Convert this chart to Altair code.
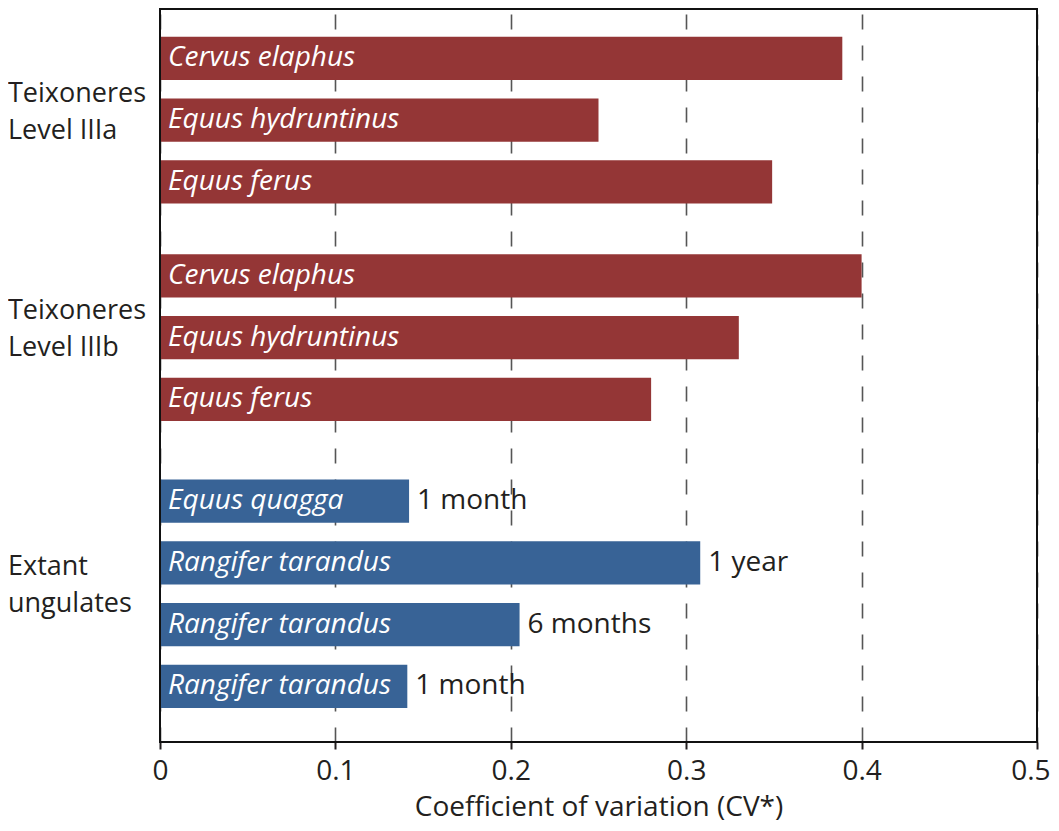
import altair as alt
import pandas as pd

# ---- data ----
group_labels = ["Teixoneres\nLevel IIIa", "Teixoneres\nLevel IIIb", "Extant\nungulates"]
species = ["Cervus elaphus", "Equus hydruntinus", "Equus ferus",
           "Cervus elaphus", "Equus hydruntinus", "Equus ferus",
           "Equus quagga", "Rangifer tarandus", "Rangifer tarandus", "Rangifer tarandus"]
group_of = [0, 0, 0, 1, 1, 1, 2, 2, 2, 2]
cv_values = [0.389, 0.250, 0.349, 0.400, 0.330, 0.280, 0.142, 0.308, 0.205, 0.141]
durations = ["", "", "", "", "", "", "1 month", "1 year", "6 months", "1 month"]
tick_values = [0, 0.1, 0.2, 0.3, 0.4, 0.5]

# ---- layout / style constants ----
W, H = 877, 733
Y_TOP = 0.13
FIRST_ROW = 0.93
GROUP_EXTRA = [0.0, 0.52, 1.17]
HALF_BAR = 0.35
LINE_H = 37
GROUP_COLORS = ["#943636", "#943636", "#386396"]
FONT = "Open Sans"
FS = 28
GFS = 27
INK = "#231f20"

pos = [FIRST_ROW + i + GROUP_EXTRA[g] for i, g in enumerate(group_of)]
df = pd.DataFrame({
    "species": species,
    "cv": cv_values,
    "dur": durations,
    "pos": pos,
    "color": [GROUP_COLORS[g] for g in group_of],
})
df["y0"] = df["pos"] - HALF_BAR
df["y1"] = df["pos"] + HALF_BAR

unit_px = H / (12 - Y_TOP)
gpos = []
for g in range(len(group_labels)):
    rows = [p for p, gg in zip(pos, group_of) if gg == g]
    # first line is anchored at 'middle'; shift up half a line so the block is centred
    gpos.append(sum(rows) / len(rows) - 0.13 - (LINE_H / 2) / unit_px)
gdf = pd.DataFrame({"label": group_labels, "pos": gpos})

yscale = alt.Scale(domain=[Y_TOP, 12], reverse=True, nice=False, zero=False)
xscale = alt.Scale(domain=[0, 0.5], nice=False)

base = alt.Chart(df)

bars = base.mark_rect().encode(
    x=alt.X("cv:Q", scale=xscale, axis=alt.Axis(
        values=tick_values, format=".1~f",
        title="Coefficient of variation (CV*)",
        titleFont=FONT, titleFontSize=FS, titleFontWeight="normal", titleColor=INK,
        titlePadding=8,
        labelFont=FONT, labelFontSize=FS, labelColor=INK, labelPadding=8,
        labelAlign={"condition": {"test": "datum.value >= 0.5", "value": "right"},
                    "value": "center"},
        labelOffset={"condition": {"test": "datum.value >= 0.5", "value": 13},
                     "value": 0},
        domain=False, tickColor=INK, tickSize=7, tickWidth=2,
        grid=True, gridDash=[15, 16], gridColor="#555555", gridWidth=1.6,
    )),
    x2=alt.datum(0),
    y=alt.Y("y0:Q", scale=yscale, axis=None),
    y2="y1:Q",
    color=alt.Color("color:N", scale=None),
)

names = base.mark_text(align="left", baseline="middle", font=FONT, fontSize=FS,
                       fontStyle="italic", color="white").encode(
    x=alt.value(8),
    y=alt.Y("pos:Q", scale=yscale, axis=None),
    text="species:N",
)

durs = base.transform_filter("datum.dur != ''").mark_text(
    align="left", baseline="middle", dx=8, font=FONT, fontSize=FS, color=INK).encode(
    x=alt.X("cv:Q", scale=xscale),
    y=alt.Y("pos:Q", scale=yscale, axis=None),
    text="dur:N",
)

groups = alt.Chart(gdf).mark_text(align="left", baseline="middle", lineBreak="\n",
                                  lineHeight=LINE_H, font=FONT, fontSize=GFS, color=INK).encode(
    x=alt.value(-152),
    y=alt.Y("pos:Q", scale=yscale, axis=None),
    text="label:N",
)

frame = alt.Chart(pd.DataFrame({"k": [0]})).mark_rect(
    fillOpacity=0, stroke="#111111", strokeWidth=2).encode(
    x=alt.value(0), x2=alt.value(W), y=alt.value(0), y2=alt.value(H),
)

chart = alt.layer(bars, names, durs, groups, frame).properties(
    width=W, height=H,
    autosize=alt.AutoSizeParams(type="none"),
    padding={"left": 152, "top": 1, "right": 14, "bottom": 81},
).configure_view(strokeWidth=0)

chart.save("out.html", embed_options={"renderer": "svg", "actions": False})
